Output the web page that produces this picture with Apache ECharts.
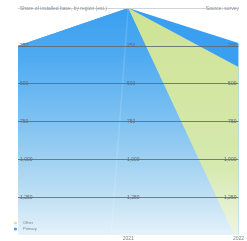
<!DOCTYPE html>
<html>
<head>
<meta charset="utf-8">
<script src="https://cdn.jsdelivr.net/npm/echarts@6/dist/echarts.min.js"></script>
<style>html,body{margin:0;padding:0;background:#fff}#c{width:247px;height:241px}</style>
</head>
<body>
<div id="c"></div>
<script>
var categories = ['2020', '2021', '2022'];
var yTicks = [0, 250, 500, 750, 1000, 1250, 1500];
var upperBlue = [250, 0, 231];
var greenShare = [null, 0, 390];
var lowerBlue = [250, 0, 1560];
var faintLine = [9700, 0, null];

var chart = echarts.init(document.getElementById('c'));
var grey = ['#c8cdd2', '#5d6b76', '#5d6b76', '#5d6b76', '#5d6b76', '#5d6b76', '#ffffff'];
function yAx(pos, offset) {
  return {
    type: 'value', inverse: true, position: pos, offset: offset,
    min: yTicks[0], max: yTicks[yTicks.length - 1], interval: yTicks[1] - yTicks[0],
    z: 5,
    axisLine: { show: false }, axisTick: { show: false },
    splitLine: { show: pos === 'left' && offset === 0, lineStyle: { color: grey, width: 1, opacity: 0.85 } },
    axisLabel: {
      inside: true, fontSize: 5, color: '#5f6b74', margin: 2,
      formatter: function (v) { return (v === 0 || v === 1500) ? '' : echarts.format.addCommas(v); }
    }
  };
}
chart.setOption({
  animation: false,
  title: [
    { text: 'Share of installed base, by region (est.)', left: 15, top: 1, textStyle: { fontSize: 5, color: '#8a939a', fontWeight: 'normal' } },
    { text: 'Source: survey', right: 3, top: 1, textStyle: { fontSize: 5, color: '#8a939a', fontWeight: 'normal' } }
  ],
  legend: {
    orient: 'vertical', left: 8, bottom: 5, itemWidth: 5, itemHeight: 4, itemGap: 2,
    textStyle: { fontSize: 4, color: '#7a8288' },
    data: ['Other', 'Primary']
  },
  grid: { left: 18, right: 0, top: 8, bottom: 6, containLabel: false },
  xAxis: {
    type: 'category', data: categories, boundaryGap: false,
    axisLine: { show: false, onZero: false }, axisTick: { show: false },
    axisLabel: { fontSize: 5, color: '#7a8288', margin: 1, interval: function (i) { return i > 0; } }
  },
  yAxis: [yAx('left', 0), yAx('right', 0), yAx('left', -107)],
  series: [
    { name: 'Primary', type: 'line', data: upperBlue, symbol: 'none', lineStyle: { width: 0 },
      itemStyle: { color: '#3a9ff0' },
      areaStyle: { origin: 'end', color: '#3a9ff0', opacity: 1 } },
    { name: 'Other', type: 'line', data: greenShare, symbol: 'none', lineStyle: { width: 0 },
      itemStyle: { color: '#d2e59c' },
      areaStyle: { origin: 'end', opacity: 1, color: new echarts.graphic.LinearGradient(0, 0, 0, 1, [
        { offset: 0, color: '#cfe394' }, { offset: 0.7, color: '#d6e9b0' }, { offset: 1, color: '#eef5e4' }]) } },
    { name: 'Primary', type: 'line', data: lowerBlue, symbol: 'none', lineStyle: { width: 0 },
      itemStyle: { color: '#3a9ff0' },
      areaStyle: { origin: 'end', opacity: 1, color: new echarts.graphic.LinearGradient(0, 0, 0, 1, [
        { offset: 0, color: '#3a9ff0' }, { offset: 0.2, color: '#4eaaf1' }, { offset: 0.55, color: '#8cc8f1' },
        { offset: 0.8, color: '#bfe0f4' }, { offset: 1, color: '#eef6fb' }]) } },
    { name: 'trace', type: 'line', data: faintLine, symbol: 'none', silent: true,
      lineStyle: { width: 1.5, color: 'rgba(255,255,255,0.14)' } }
  ]
});
</script>
</body>
</html>
